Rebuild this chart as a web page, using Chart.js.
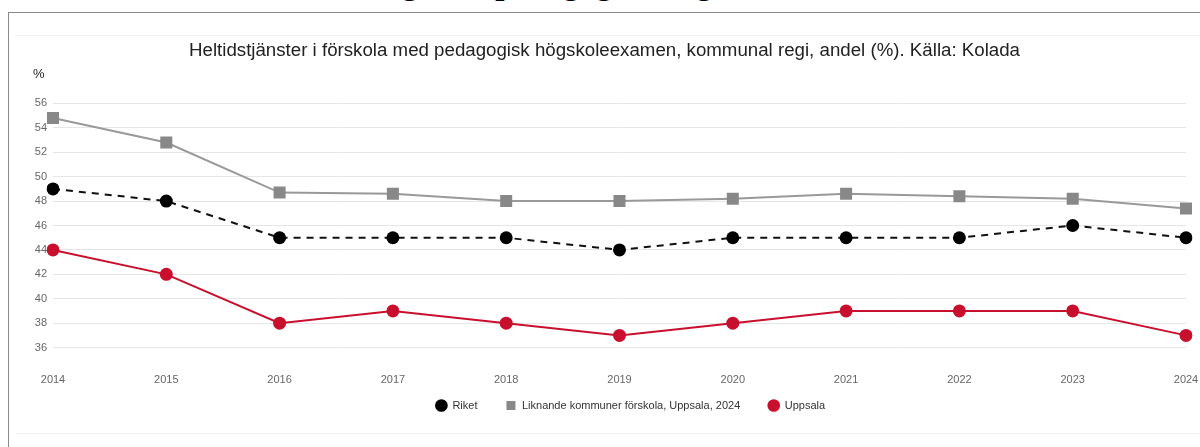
<!DOCTYPE html>
<html>
<head>
<meta charset="utf-8">
<script src="https://cdn.jsdelivr.net/npm/chart.js@4.4.1/dist/chart.umd.min.js"></script>
<style>
  body { margin: 0; background: #fff; overflow: hidden; }
  #heading { position: absolute; left: 266px; top: -35px; font: bold 33px "Liberation Serif", serif; color: #000; white-space: nowrap; line-height: 36px; }
  #box { position: absolute; left: 8px; top: 12px; width: 1300px; height: 500px; border: 1px solid #8a8a8a; }
  #inner { position: absolute; left: 15px; top: 35px; width: 1300px; height: 397px; border-top: 1px solid #f3f3f3; border-bottom: 1px solid #f3f3f3; }
  #wrap { position: absolute; left: 0; top: 0; width: 1200px; height: 447px; }
  #unit { position: absolute; left: 33px; top: 66px; font: 13px "Liberation Sans", Arial, sans-serif; color: #222; }
</style>
</head>
<body>
<div id="heading">Utbildning med pedagogisk högskoleexamen</div>
<div id="box"></div>
<div id="inner"></div>
<div id="wrap"><canvas id="chart"></canvas></div>
<div id="unit">%</div>
<script>
// values
const years = ["2014", "2015", "2016", "2017", "2018", "2019", "2020", "2021", "2022", "2023", "2024"];
const riket = [49, 48, 45, 45, 45, 44, 45, 45, 45, 46, 45];
const liknande = [54.8, 52.8, 48.7, 48.6, 48.0, 48.0, 48.2, 48.6, 48.4, 48.2, 47.4];
const uppsala = [44, 42, 38, 39, 38, 37, 38, 39, 39, 39, 37];
const yTicks = [36, 38, 40, 42, 44, 46, 48, 50, 52, 54, 56];

const font = "'Liberation Sans', Arial, sans-serif";

// pull the legend up closer to the year labels and a bit to the right
const legendNudge = {
  id: "legendNudge",
  afterLayout(chart) {
    const lg = chart.legend;
    lg.top -= 29;
    lg.bottom -= 29;
    lg.left += 26;
    lg.right += 26;
  },
};

document.addEventListener("DOMContentLoaded", function () {
  const ctx = document.getElementById("chart").getContext("2d");
  new Chart(ctx, {
    type: "line",
    data: {
      labels: years,
      datasets: [
        {
          label: "Riket",
          data: riket,
          borderColor: "#111",
          backgroundColor: "#000",
          borderWidth: 2,
          borderDash: [7, 6],
          pointStyle: "circle",
          pointRadius: 6.5,
          pointBorderWidth: 0,
          order: 2,
        },
        {
          label: "Liknande kommuner förskola, Uppsala, 2024",
          data: liknande,
          borderColor: "#999",
          backgroundColor: "#888",
          borderWidth: 2,
          pointStyle: "rect",
          pointRadius: 8.5,
          pointBorderWidth: 0,
          order: 3,
        },
        {
          label: "Uppsala",
          data: uppsala,
          borderColor: "#c8102e",
          backgroundColor: "#c8102e",
          borderWidth: 2,
          pointStyle: "circle",
          pointRadius: 6.5,
          pointBorderWidth: 0,
          order: 1,
        },
      ],
    },
    plugins: [legendNudge],
    options: {
      responsive: true,
      maintainAspectRatio: false,
      animation: false,
      layout: { padding: { left: 23, right: 14, top: 0, bottom: -3 } },
      plugins: {
        title: {
          display: true,
          text: "Heltidstjänster i förskola med pedagogisk högskoleexamen, kommunal regi, andel (%). Källa: Kolada",
          color: "#222",
          font: { family: font, size: 18.7, weight: "normal" },
          padding: { top: 40, bottom: 41 },
        },
        legend: {
          position: "bottom",
          labels: {
            usePointStyle: true,
            boxHeight: 9,
            padding: 28,
            color: "#333",
            font: { family: font, size: 11 },
            sort: (a, b) => a.datasetIndex - b.datasetIndex,
          },
        },
        tooltip: { enabled: false },
      },
      scales: {
        x: {
          offset: false,
          grid: { display: false, drawTicks: false },
          border: { display: false },
          afterFit: (scale) => { scale.paddingRight = 0; },
          ticks: { color: "#666", padding: 14, maxRotation: 0, font: { family: font, size: 11 } },
        },
        y: {
          min: 35,
          max: 56,
          afterBuildTicks: (scale) => { scale.ticks = yTicks.map((v) => ({ value: v })); },
          afterFit: (scale) => { scale.width = 30; },
          grid: { color: "#e6e6e6", drawTicks: false },
          border: { display: false },
          ticks: { color: "#666", padding: 6, font: { family: font, size: 11 } },
        },
      },
    },
  });
});
</script>
</body>
</html>
